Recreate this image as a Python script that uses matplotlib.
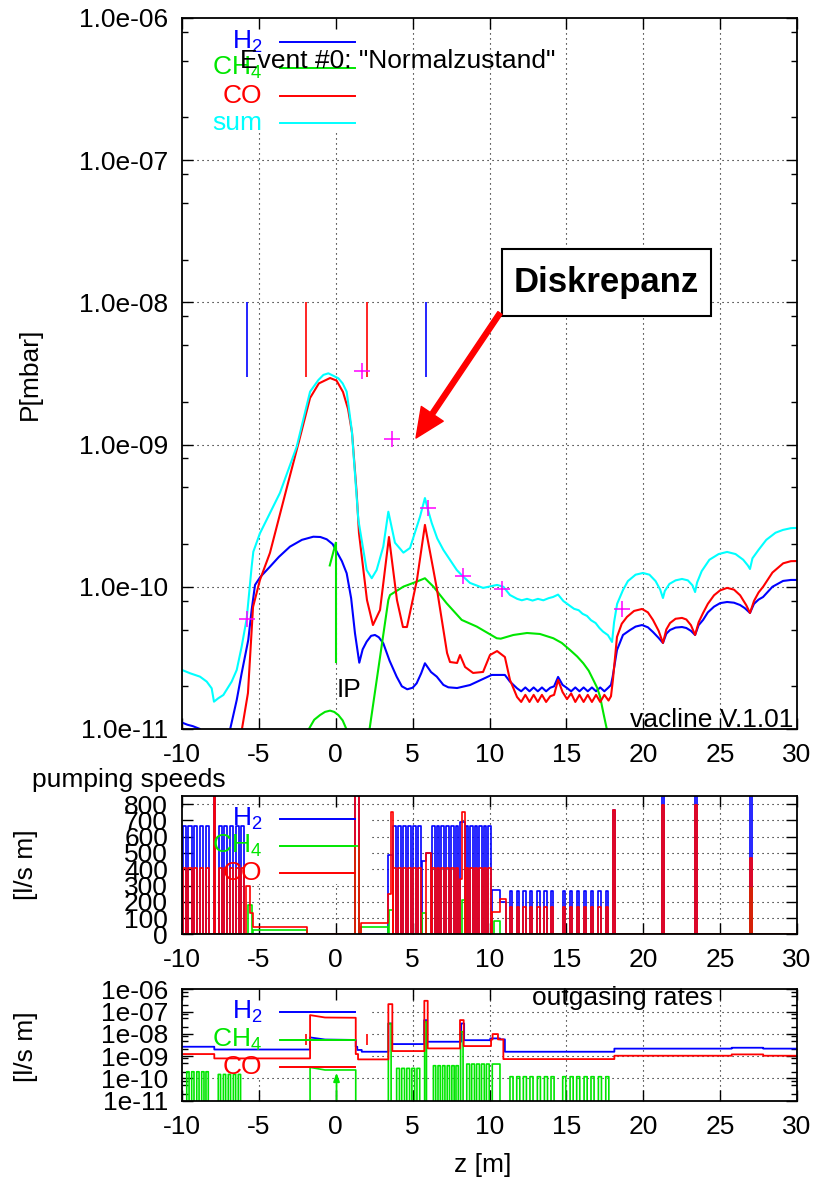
import numpy as np
import matplotlib
matplotlib.use("Agg")
import matplotlib.pyplot as plt
from matplotlib.patches import Rectangle, FancyArrowPatch
from matplotlib.ticker import FixedLocator, FixedFormatter, NullFormatter

plt.rcParams['font.family'] = ['Liberation Sans', 'DejaVu Sans']
plt.rcParams['mathtext.fontset'] = 'custom'
plt.rcParams['mathtext.rm'] = 'Liberation Sans'
plt.rcParams['mathtext.it'] = 'Liberation Sans:italic'
plt.rcParams['mathtext.bf'] = 'Liberation Sans:bold'
plt.rcParams['mathtext.default'] = 'regular'
plt.rcParams['axes.unicode_minus'] = False

BLUE, GREEN, RED, CYAN, MAGENTA = '#0000ff', '#00e600', '#ff0000', '#00ffff', '#ff00ff'
FS = 19

# ------------------------------------------------------------------ data
Z_TICKS = [-10, -5, 0, 5, 10, 15, 20, 25, 30]
Z_TICK_LABELS = ['-10', '-5', '0', '5', '10', '15', '20', '25', '30']
P_DECADES = [1e-11, 1e-10, 1e-9, 1e-8, 1e-7, 1e-6]
P_LABELS_TOP = ['1.0e-11', '1.0e-10', '1.0e-09', '1.0e-08', '1.0e-07', '1.0e-06']
P_LABELS_BOT = ['1e-11', '1e-10', '1e-09', '1e-08', '1e-07', '1e-06']
S_TICKS = [0, 100, 200, 300, 400, 500, 600, 700, 800]

# pressure profiles: (z [m], log10 P [mbar])
H2_PROFILE = [(-10.0, -10.955), (-9.65, -10.97), (-9.3, -10.98), (-8.83, -11.0), (-8.7, -11.05),
              (-7.0, -11.1), (-6.88, -11.007), (-6.44, -10.796), (-6.12, -10.608), (-5.69, -10.374),
              (-5.47, -10.163), (-5.25, -9.987), (-4.9, -9.93), (-4.28, -9.859), (-3.7, -9.79),
              (-2.98, -9.718), (-2.2, -9.67), (-1.46, -9.648), (-1.0, -9.65), (-0.59, -9.666),
              (-0.2, -9.70), (0.06, -9.753), (0.4, -9.82), (0.71, -9.905), (1.0, -10.08),
              (1.25, -10.327), (1.53, -10.534), (1.75, -10.44), (2.01, -10.386), (2.3, -10.345),
              (2.55, -10.339), (2.8, -10.355), (3.09, -10.397), (3.5, -10.52), (3.96, -10.632),
              (4.3, -10.70), (4.65, -10.721), (5.0, -10.71), (5.26, -10.679), (5.55, -10.61),
              (5.80, -10.538), (6.2, -10.60), (6.57, -10.632), (7.0, -10.69), (7.32, -10.707),
              (7.89, -10.712), (8.73, -10.691), (10.14, -10.62), (11.0, -10.62), (11.33, -10.667),
              (11.79, -10.714), (12.06, -10.735), (12.33, -10.708), (12.6, -10.735), (12.87, -10.708),
              (13.14, -10.735), (13.41, -10.708), (13.68, -10.735), (13.95, -10.71), (14.2, -10.70),
              (14.46, -10.634), (14.75, -10.69), (15.04, -10.712), (15.31, -10.735), (15.58, -10.708),
              (15.85, -10.735), (16.12, -10.708), (16.39, -10.735), (16.66, -10.708), (16.93, -10.735),
              (17.2, -10.708), (17.47, -10.735), (17.74, -10.708), (17.9, -10.69), (18.01, -10.632),
              (18.29, -10.445), (18.68, -10.339), (19.14, -10.304), (19.5, -10.28), (19.92, -10.269),
              (20.3, -10.285), (20.63, -10.318), (21.0, -10.36), (21.28, -10.395), (21.5, -10.33),
              (21.74, -10.304), (22.1, -10.287), (22.52, -10.283), (22.8, -10.29), (23.1, -10.31),
              (23.37, -10.339), (23.6, -10.27), (23.89, -10.233), (24.2, -10.18), (24.6, -10.14),
              (25.0, -10.115), (25.45, -10.107), (25.9, -10.112), (26.29, -10.128), (26.6, -10.15),
              (26.94, -10.184), (27.2, -10.12), (27.5, -10.09), (27.79, -10.072), (28.4, -10.0),
              (29.09, -9.959), (29.6, -9.952), (30.0, -9.952)]

CH4_PROFILE = [(-1.85, -11.08), (-1.72, -10.995), (-1.4, -10.935), (-1.02, -10.902), (-0.7, -10.88),
               (-0.37, -10.871), (-0.1, -10.88), (0.17, -10.902), (0.45, -10.94), (0.67, -10.995),
               (0.78, -11.08), (2.15, -11.05), (2.2, -11.0), (3.42, -10.093), (3.53, -10.058),
               (4.4, -9.999), (5.26, -9.964), (5.80, -9.94), (6.35, -9.999), (7.21, -10.116),
               (8.19, -10.233), (9.17, -10.28), (10.47, -10.362), (10.73, -10.365), (11.55, -10.339),
               (12.44, -10.325), (13.28, -10.332), (14.15, -10.362), (14.7, -10.395), (15.24, -10.445),
               (15.7, -10.49), (16.1, -10.538), (16.45, -10.59), (16.75, -10.655), (17.0, -10.71),
               (17.19, -10.773), (17.41, -10.89), (17.64, -11.007), (17.7, -11.1)]

CO_PROFILE = [(-10.0, -10.99), (-9.9, -11.03), (-6.2, -11.1), (-6.1, -11.0), (-5.71, -10.747),
              (-5.38, -10.142), (-4.93, -9.952), (-4.28, -9.762), (-3.17, -9.298), (-2.4, -8.98),
              (-1.67, -8.672), (-1.1, -8.57), (-0.37, -8.532), (0.05, -8.55), (0.47, -8.63),
              (0.8, -8.75), (1.06, -8.918), (1.36, -9.34), (1.51, -9.622), (2.03, -10.093),
              (2.42, -10.269), (2.88, -10.163), (3.46, -9.65), (3.98, -10.093), (4.37, -10.283),
              (4.63, -10.283), (5.28, -9.952), (5.80, -9.565), (6.35, -9.882), (6.59, -10.023),
              (7.24, -10.466), (7.43, -10.529), (7.89, -10.536), (8.08, -10.48), (8.41, -10.564),
              (8.93, -10.606), (9.58, -10.599), (10.03, -10.48), (10.49, -10.452), (11.0, -10.494),
              (11.33, -10.655), (11.79, -10.775), (12.06, -10.81), (12.33, -10.76), (12.6, -10.81),
              (12.87, -10.76), (13.14, -10.81), (13.41, -10.76), (13.68, -10.81), (13.95, -10.77),
              (14.2, -10.76), (14.46, -10.655), (14.75, -10.74), (15.04, -10.79), (15.31, -10.75),
              (15.58, -10.81), (15.85, -10.76), (16.12, -10.81), (16.39, -10.76), (16.66, -10.81),
              (16.93, -10.76), (17.2, -10.81), (17.47, -10.76), (17.74, -10.80), (17.9, -10.77),
              (18.03, -10.65), (18.29, -10.353), (18.6, -10.26), (18.94, -10.212), (19.4, -10.17),
              (19.92, -10.156), (20.3, -10.18), (20.63, -10.233), (21.0, -10.31), (21.28, -10.395),
              (21.5, -10.30), (21.74, -10.255), (22.1, -10.225), (22.52, -10.219), (22.8, -10.23),
              (23.1, -10.27), (23.37, -10.339), (23.6, -10.25), (23.89, -10.184), (24.2, -10.12),
              (24.6, -10.06), (25.0, -10.025), (25.45, -10.008), (25.9, -10.02), (26.3, -10.06),
              (26.7, -10.13), (26.94, -10.184), (27.2, -10.10), (27.5, -10.04), (27.8, -9.999),
              (28.4, -9.9), (29.1, -9.835), (29.6, -9.82), (30.0, -9.819)]

SUM_PROFILE = [(-10.0, -10.585), (-9.48, -10.608), (-8.83, -10.632), (-8.39, -10.667), (-8.07, -10.714),
               (-7.92, -10.808), (-7.64, -10.784), (-7.31, -10.761), (-6.77, -10.667), (-6.44, -10.585),
               (-6.12, -10.421), (-5.79, -10.222), (-5.47, -9.859), (-5.36, -9.753), (-4.93, -9.624),
               (-3.63, -9.34), (-2.54, -9.015), (-1.67, -8.628), (-1.13, -8.546), (-0.8, -8.51),
               (-0.48, -8.499), (0.17, -8.534), (0.45, -8.57), (0.71, -8.628), (1.04, -8.897),
               (1.47, -9.53), (2.01, -9.882), (2.34, -9.94), (2.66, -9.882), (3.09, -9.718),
               (3.42, -9.472), (3.85, -9.69), (4.40, -9.76), (4.83, -9.727), (5.48, -9.507),
               (5.80, -9.376), (6.0, -9.46), (6.24, -9.551), (6.6, -9.66), (7.0, -9.741),
               (7.87, -9.882), (8.2, -9.92), (8.73, -9.973), (9.58, -10.008), (10.49, -9.987),
               (10.9, -10.0), (11.33, -10.058), (11.8, -10.085), (12.1, -10.095), (12.44, -10.085),
               (12.8, -10.097), (13.15, -10.085), (13.5, -10.095), (13.85, -10.08), (14.13, -10.072),
               (14.46, -10.055), (14.8, -10.10), (15.24, -10.135), (15.5, -10.155), (15.8, -10.165),
               (16.05, -10.19), (16.34, -10.205), (16.6, -10.235), (16.9, -10.255), (17.15, -10.29),
               (17.38, -10.315), (17.7, -10.34), (17.97, -10.388), (18.1, -10.25), (18.3, -10.12),
               (18.68, -10.023), (19.0, -9.96), (19.5, -9.915), (19.98, -9.903), (20.4, -9.915),
               (20.8, -9.96), (21.1, -10.02), (21.28, -10.079), (21.4, -10.03), (21.7, -9.98),
               (22.1, -9.955), (22.52, -9.945), (22.9, -9.955), (23.2, -9.99), (23.37, -10.037),
               (23.5, -9.97), (23.8, -9.89), (24.3, -9.81), (24.9, -9.77), (25.45, -9.755),
               (26.0, -9.77), (26.5, -9.81), (26.8, -9.85), (26.94, -9.875), (27.1, -9.80),
               (27.5, -9.74), (28.0, -9.67), (28.6, -9.62), (29.09, -9.60), (29.6, -9.588),
               (30.0, -9.586)]

# measured pressures (magenta +)
MEAS_Z = [-5.77, 1.71, 3.66, 6.0, 8.28, 10.81, 18.62]
MEAS_P = [5.9e-11, 3.3e-9, 1.1e-9, 3.6e-10, 1.2e-10, 9.7e-11, 7.0e-11]

# gauge positions (vertical marks)
GAUGE_Z = [-5.77, -1.93, 2.03, 5.87]
GAUGE_COLORS = [BLUE, RED, RED, BLUE]
GAUGE_P_RANGE = (3.0e-9, 1.0e-8)
IP_Z = 0.0

# pumping speeds [l/s m]: (z_start, z_end, S)
H2_SPEED = [(-9.95, -9.75, 665), (-9.58, -9.38, 665), (-9.21, -9.01, 665), (-8.84, -8.64, 665),
            (-8.47, -8.27, 665), (-7.93, -7.87, 3000), (-7.62, -7.42, 665), (-7.25, -7.05, 665),
            (-6.88, -6.68, 665), (-6.51, -6.31, 665), (-6.14, -5.94, 665), (1.25, 1.51, 3000),
            (3.40, 3.72, 489), (3.75, 3.93, 665), (4.07, 4.25, 665), (4.39, 4.57, 665),
            (4.71, 4.89, 665), (5.03, 5.21, 665), (5.35, 5.53, 665), (5.60, 5.85, 448),
            (5.85, 6.20, 499), (6.25, 6.43, 665), (6.56, 6.74, 665), (6.87, 7.05, 665),
            (7.18, 7.36, 665), (7.49, 7.67, 665), (7.80, 7.98, 665), (8.08, 8.40, 691),
            (8.45, 8.63, 665), (8.74, 8.92, 665), (9.03, 9.21, 665), (9.32, 9.50, 665),
            (9.61, 9.79, 665), (9.92, 10.10, 665), (10.18, 10.68, 273), (10.68, 11.05, 202),
            (11.33, 11.48, 267), (11.77, 11.92, 267), (12.20, 12.35, 267), (12.63, 12.78, 267),
            (13.11, 13.26, 267), (13.57, 13.72, 267), (14.00, 14.15, 267), (14.76, 14.91, 267),
            (15.24, 15.39, 267), (15.67, 15.82, 267), (16.15, 16.30, 267), (16.60, 16.75, 267),
            (17.08, 17.23, 267), (17.56, 17.71, 267), (18.05, 18.18, 765), (21.22, 21.36, 3000),
            (23.36, 23.50, 3000), (26.92, 27.06, 3000)]

CH4_SPEED = [(-5.73, -5.43, 178), (-5.35, -1.87, 30), (1.25, 1.51, 540), (1.65, 3.40, 44),
             (3.45, 3.72, 151), (5.60, 5.85, 131), (8.23, 8.40, 212), (10.30, 10.68, 85),
             (26.92, 27.06, 283)]

CO_SPEED = [(-9.95, -9.75, 410), (-9.58, -9.38, 410), (-9.21, -9.01, 410), (-8.84, -8.64, 410),
            (-8.47, -8.27, 410), (-7.93, -7.87, 3000), (-7.62, -7.42, 410), (-7.25, -7.05, 410),
            (-6.88, -6.68, 410), (-6.51, -6.31, 410), (-6.14, -5.94, 410), (-5.85, -5.60, 300),
            (-5.60, -5.38, 131), (-5.38, -1.87, 44), (1.25, 1.51, 3000), (1.65, 3.40, 71),
            (3.40, 3.58, 246), (3.58, 3.72, 751), (3.75, 3.93, 410), (4.07, 4.25, 410),
            (4.39, 4.57, 410), (4.71, 4.89, 410), (5.03, 5.21, 410), (5.35, 5.53, 410),
            (5.85, 6.20, 499), (6.25, 6.43, 410), (6.56, 6.74, 410), (6.87, 7.05, 410),
            (7.18, 7.36, 410), (7.49, 7.67, 410), (7.80, 7.98, 410), (8.08, 8.23, 343),
            (8.23, 8.40, 751), (8.45, 8.63, 410), (8.74, 8.92, 410), (9.03, 9.21, 410),
            (9.32, 9.50, 410), (9.61, 9.79, 410), (9.92, 10.10, 410), (10.18, 10.68, 138),
            (10.68, 11.05, 217), (11.33, 11.48, 168), (11.77, 11.92, 168), (12.20, 12.35, 168),
            (12.63, 12.78, 168), (13.11, 13.26, 168), (13.57, 13.72, 168), (14.00, 14.15, 168),
            (14.76, 14.91, 168), (15.24, 15.39, 168), (15.67, 15.82, 168), (16.15, 16.30, 168),
            (16.60, 16.75, 168), (17.08, 17.23, 168), (17.56, 17.71, 168), (18.05, 18.18, 765),
            (21.22, 21.36, 795), (23.36, 23.50, 795), (26.92, 27.06, 470)]

# outgassing rates: (z, log10 q) polylines
H2_OUTGAS = [(-10, -8.575), (-7.9, -8.575), (-7.9, -8.70), (-1.67, -8.70), (-1.67, -8.156),
             (-0.7, -8.25), (1.3, -8.27), (1.3, -8.575), (1.40, -8.575), (1.40, -8.72), (1.69, -8.72),
             (1.69, -8.80), (3.42, -8.80), (3.42, -7.53), (3.65, -7.53), (3.65, -8.455), (5.75, -8.455),
             (5.75, -7.38), (5.95, -7.38), (5.95, -8.35), (8.15, -8.35), (8.15, -7.53), (8.35, -7.53),
             (8.35, -8.28), (10.05, -8.28), (10.05, -8.20), (10.68, -8.20), (10.68, -8.245),
             (11.0, -8.245), (11.0, -8.80), (18.12, -8.80), (18.12, -8.66), (25.75, -8.66),
             (25.75, -8.62), (27.8, -8.62), (27.8, -8.66), (30, -8.66)]

CO_OUTGAS = [(-10, -8.904), (-7.9, -8.904), (-7.9, -9.10), (-1.67, -9.10), (-1.67, -7.153),
             (-0.7, -7.26), (1.3, -7.272), (1.3, -8.904), (1.45, -8.904), (1.45, -9.144),
             (3.42, -9.144), (3.42, -6.659), (3.68, -6.659), (3.68, -8.769), (5.76, -8.769),
             (5.76, -6.509), (5.98, -6.509), (5.98, -8.65), (8.08, -8.65), (8.08, -7.377),
             (8.32, -7.377), (8.32, -8.545), (10.1, -8.545), (10.1, -8.25), (10.2, -8.25),
             (10.2, -8.006), (10.55, -8.006), (10.55, -8.245), (10.9, -8.245), (10.9, -9.13),
             (18.12, -9.13), (18.12, -8.979), (25.75, -8.979), (25.75, -8.92), (27.8, -8.92),
             (27.8, -8.979), (30, -8.979)]

# CH4 outgassing: (z_start, z_end, log10 q_start[, log10 q_end]); zero elsewhere
CH4_OUTGAS = [(-9.69, -9.54, -9.70), (-9.37, -9.22, -9.70), (-9.04, -8.89, -9.70), (-8.72, -8.57, -9.70),
              (-8.44, -8.29, -9.70), (-7.64, -7.49, -9.82), (-7.31, -7.16, -9.82), (-6.99, -6.84, -9.82),
              (-6.66, -6.51, -9.82), (-6.34, -6.19, -9.82), (-1.67, -0.7, -9.503, -9.62), (-0.7, 1.3, -9.62),
              (3.42, 3.60, -7.53), (3.96, 4.14, -9.548), (4.29, 4.47, -9.548), (4.62, 4.80, -9.548),
              (4.95, 5.13, -9.548), (5.28, 5.46, -9.548), (5.78, 5.90, -7.45), (6.35, 6.50, -9.428),
              (6.65, 6.80, -9.428), (6.95, 7.10, -9.428), (7.25, 7.40, -9.428), (7.55, 7.70, -9.428),
              (7.82, 7.97, -9.428), (8.12, 8.28, -7.9), (8.52, 8.70, -9.353), (8.84, 9.02, -9.353),
              (9.16, 9.34, -9.353), (9.48, 9.66, -9.353), (9.80, 9.98, -9.353), (10.18, 10.68, -9.353),
              (11.33, 11.53, -9.922), (11.77, 11.97, -9.922), (12.20, 12.40, -9.922), (12.63, 12.83, -9.922),
              (13.11, 13.31, -9.922), (13.57, 13.77, -9.922), (14.00, 14.20, -9.922), (14.76, 14.96, -9.922),
              (15.24, 15.44, -9.922), (15.67, 15.87, -9.922), (16.15, 16.35, -9.922), (16.60, 16.80, -9.922),
              (17.08, 17.28, -9.922), (17.56, 17.76, -9.922)]
OUTGAS_MARK_Z = [-1.95, 2.01]
OUTGAS_MARK_LOG = (-8.5, -8.0)


# ------------------------------------------------------------------ helpers
def step_path(segs, base, zmin=-10.0, zmax=30.0):
    xs, ys = [zmin], [base]
    cur, cur_z = base, zmin
    for seg in segs:
        z0, z1, v0 = seg[0], seg[1], seg[2]
        v1 = seg[3] if len(seg) > 3 else v0
        if z0 > cur_z + 1e-9 and cur != base:
            xs.append(cur_z); ys.append(base); cur = base
        xs += [z0, z0, z1]; ys += [cur, v0, v1]
        cur, cur_z = v1, z1
    xs += [cur_z, zmax]; ys += [base, base]
    return np.array(xs), np.array(ys)


def style(ax):
    ax.set_xlim(-10, 30)
    ax.set_xticks(Z_TICKS)
    ax.set_xticklabels(Z_TICK_LABELS)
    ax.tick_params(which='both', direction='in', top=True, right=True, labelsize=FS, pad=10, width=1.0)
    ax.tick_params(which='major', length=8)
    ax.tick_params(which='minor', length=4)
    for s in ax.spines.values():
        s.set_linewidth(1.3)
    for x in Z_TICKS[1:-1]:
        ax.axvline(x, color='k', lw=0.8, ls=(0, (1, 3.5)), zorder=0.3)


def blank(ax, x0, x1, y0, y1):
    ax.add_patch(Rectangle((x0, y0), x1 - x0, y1 - y0, transform=ax.transAxes,
                           fc='white', ec='none', zorder=0.6))


def legend(ax, entries, rows, lab_x=0.131, l0=0.159, l1=0.281):
    for (lab, col), yy in zip(entries, rows):
        ax.plot([l0, l1], [yy, yy], color=col, lw=1.4, transform=ax.transAxes, zorder=7, clip_on=False)
        ax.text(lab_x, yy, lab, color=col, fontsize=FS, ha='right', va='center',
                transform=ax.transAxes, zorder=7)


LOG_MINOR = [k * 10.0 ** e for e in range(-11, -6) for k in (2, 5, 8)]

fig = plt.figure(figsize=(8.25, 11.89), dpi=100)
ax1 = fig.add_axes([0.2206, 0.3869, 0.7455, 0.5980])
ax2 = fig.add_axes([0.2206, 0.2141, 0.7455, 0.1165])
ax3 = fig.add_axes([0.2206, 0.0743, 0.7455, 0.0935])

# ------------------------------------------------------------------ top panel
style(ax1)
ax1.set_yscale('log')
ax1.set_ylim(1e-11, 1e-6)
ax1.yaxis.set_major_locator(FixedLocator(P_DECADES))
ax1.yaxis.set_major_formatter(FixedFormatter(P_LABELS_TOP))
ax1.yaxis.set_minor_locator(FixedLocator(LOG_MINOR))
ax1.yaxis.set_minor_formatter(NullFormatter())
for p in P_DECADES[1:-1]:
    ax1.axhline(p, color='k', lw=0.8, ls=(0, (1, 3.5)), zorder=0.3)
blank(ax1, 0.0, 0.309, 0.838, 1.0)

for prof, col in [(H2_PROFILE, BLUE), (CH4_PROFILE, GREEN), (CO_PROFILE, RED), (SUM_PROFILE, CYAN)]:
    z, lp = np.array(prof).T
    ax1.plot(z, 10.0 ** lp, color=col, lw=1.5, zorder=2)

ax1.vlines(GAUGE_Z, GAUGE_P_RANGE[0], GAUGE_P_RANGE[1], colors=GAUGE_COLORS, lw=1.2, zorder=2)
ax1.plot(MEAS_Z, MEAS_P, ls='none', marker='+', ms=11, mew=1.1, color=MAGENTA, zorder=3)

# IP arrow (green) and label
ax1.plot([IP_Z, IP_Z], [10 ** -10.53, 10 ** -9.692], color=GREEN, lw=1.5, zorder=2)
ax1.plot([IP_Z - 0.39, IP_Z], [10 ** -9.85, 10 ** -9.692], color=GREEN, lw=1.5, zorder=2)
ax1.text(IP_Z + 0.05, 10 ** -10.775, 'IP', fontsize=FS, ha='left', va='baseline', zorder=4)

legend(ax1, [('H$_2$', BLUE), ('CH$_4$', GREEN), ('CO', RED), ('sum', CYAN)],
       [0.9667, 0.9293, 0.8903, 0.8527])
ax1.text(0.0943, 0.9395, 'Event #0: "Normalzustand"', fontsize=FS, ha='left', va='center',
         transform=ax1.transAxes, zorder=8)
ax1.text(0.9935, 0.003, 'vacline V.1.01', fontsize=FS, ha='right', va='baseline',
         transform=ax1.transAxes, zorder=8)

# annotation box + arrow
ax1.add_patch(Rectangle((10.83, 10 ** -8.096), 13.59, 10 ** -7.624 - 10 ** -8.096,
                        fc='white', ec='black', lw=1.5, zorder=9))
ax1.text(17.62, 10 ** -7.86, 'Diskrepanz', fontsize=25, fontweight='bold',
         family=['Liberation Sans Narrow', 'Liberation Sans'], ha='center', va='center', zorder=10)
ax1.add_patch(FancyArrowPatch(posA=(10.68, 10 ** -8.075), posB=(5.22, 10 ** -8.954),
                              arrowstyle='simple,head_length=1.05,head_width=0.95,tail_width=0.18',
                              mutation_scale=20, color=RED, shrinkA=0, shrinkB=0, zorder=9))

# ------------------------------------------------------------------ middle panel
style(ax2)
ax2.set_ylim(0, 850)
ax2.set_yticks(S_TICKS)
ax2.set_yticklabels([str(v) for v in S_TICKS])
for v in S_TICKS[1:]:
    ax2.axhline(v, color='k', lw=0.8, ls=(0, (1, 3.5)), zorder=0.3)
blank(ax2, 0.0, 0.309, 0.365, 0.918)
for segs, col in [(H2_SPEED, BLUE), (CH4_SPEED, GREEN), (CO_SPEED, RED)]:
    x, y = step_path(segs, 0.0)
    ax2.plot(x, y, color=col, lw=1.2, zorder=2)
legend(ax2, [('H$_2$', BLUE), ('CH$_4$', GREEN), ('CO', RED)], [0.834, 0.639, 0.444])

# ------------------------------------------------------------------ bottom panel
style(ax3)
ax3.set_yscale('log')
ax3.set_ylim(1e-11, 1e-6)
ax3.yaxis.set_major_locator(FixedLocator(P_DECADES))
ax3.yaxis.set_major_formatter(FixedFormatter(P_LABELS_BOT))
ax3.yaxis.set_minor_locator(FixedLocator(LOG_MINOR))
ax3.yaxis.set_minor_formatter(NullFormatter())
for p in P_DECADES[1:-1]:
    ax3.axhline(p, color='k', lw=0.8, ls=(0, (1, 3.5)), zorder=0.3)
blank(ax3, 0.0, 0.309, 0.21, 1.0)

z, lq = np.array(H2_OUTGAS).T
ax3.plot(z, 10.0 ** lq, color=BLUE, lw=1.3, zorder=2)
x, y = step_path(CH4_OUTGAS, -13.0)
ax3.plot(x, 10.0 ** y, color=GREEN, lw=1.2, zorder=2)
z, lq = np.array(CO_OUTGAS).T
ax3.plot(z, 10.0 ** lq, color=RED, lw=1.3, zorder=2)
ax3.vlines(OUTGAS_MARK_Z, 10 ** OUTGAS_MARK_LOG[0], 10 ** OUTGAS_MARK_LOG[1], colors=RED, lw=1.2, zorder=2)
ax3.annotate('', xy=(IP_Z + 0.05, 10 ** -9.74), xytext=(IP_Z + 0.05, 1e-11),
             arrowprops=dict(arrowstyle='-|>,head_length=0.5,head_width=0.18', color=GREEN, lw=1.3,
                             shrinkA=0, shrinkB=0), zorder=2)
legend(ax3, [('H$_2$', BLUE), ('CH$_4$', GREEN), ('CO', RED)], [0.795, 0.546, 0.306])
ax3.text(0.5686, 0.861, 'outgasing rates', fontsize=FS, ha='left', va='baseline',
         transform=ax3.transAxes, zorder=8)

# ------------------------------------------------------------------ figure texts
fig.text(0.036, 0.686, 'P[mbar]', rotation=90, ha='center', va='center', fontsize=FS)
fig.text(0.032, 0.2725, '[l/s m]', rotation=90, ha='center', va='center', fontsize=FS)
fig.text(0.032, 0.1194, '[l/s m]', rotation=90, ha='center', va='center', fontsize=FS)
fig.text(0.0388, 0.3381, 'pumping speeds', ha='left', va='baseline', fontsize=FS)
fig.text(0.5855, 0.0202, 'z [m]', ha='center', va='center', fontsize=FS)

fig.savefig('out.png', dpi=100)
